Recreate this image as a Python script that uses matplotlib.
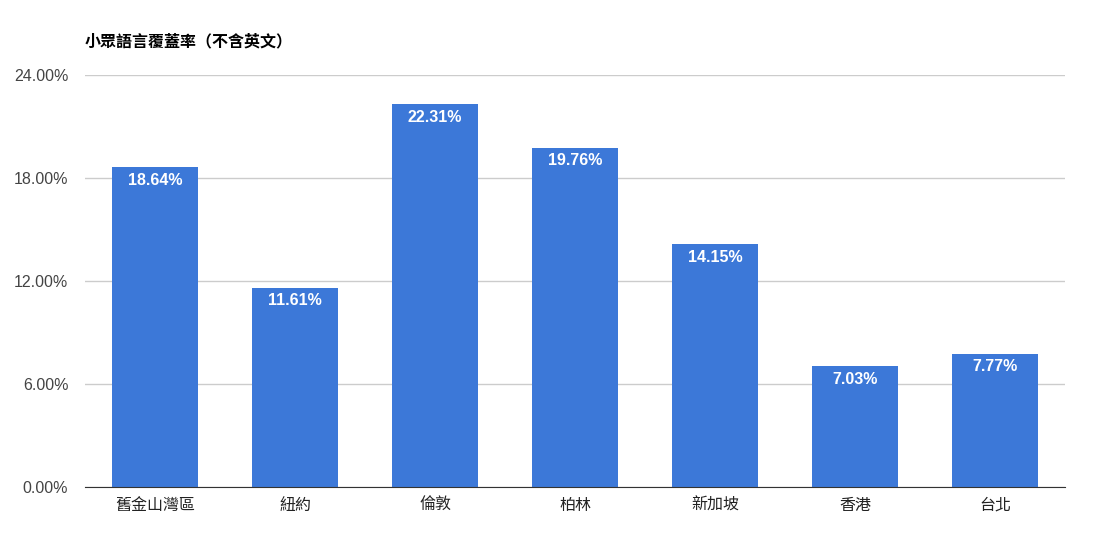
import matplotlib.pyplot as plt
from matplotlib.ticker import FuncFormatter

# data
cities = ['舊金山灣區', '紐約', '倫敦', '柏林', '新加坡', '香港', '台北']
coverage = [18.64, 11.61, 22.31, 19.76, 14.15, 7.03, 7.77]
y_ticks = [0, 6, 12, 18, 24]

plt.rcParams['font.family'] = ['Liberation Sans', 'Noto Sans CJK TC', 'DejaVu Sans']

fig = plt.figure(figsize=(10.93, 5.44), dpi=100)
ax = fig.add_axes([85 / 1093, 57 / 544, 980 / 1093, 412 / 544])

bars = ax.bar(range(len(cities)), coverage, width=0.62, color='#3c78d8', zorder=2)

# value labels inside the top of each bar
for b, v in zip(bars, coverage):
    ax.annotate(f'{v:.2f}%', (b.get_x() + b.get_width() / 2, v),
                xytext=(0, -4), textcoords='offset points',
                ha='center', va='top', color='white', fontsize=11.5, fontweight='bold')

ax.set_xlim(-0.5, len(cities) - 0.5)
ax.set_ylim(0, 24)
ax.set_yticks(y_ticks)
ax.yaxis.set_major_formatter(FuncFormatter(lambda v, p: f'{v:.2f}%'))
ax.set_xticks(range(len(cities)))
ax.set_xticklabels(cities, family='Noto Sans CJK TC')

ax.grid(axis='y', color='#cccccc', linewidth=1, zorder=0)
ax.tick_params(axis='both', length=0, labelsize=11.5, colors='#444444')
ax.tick_params(axis='x', colors='#222222', pad=7)
ax.tick_params(axis='y', pad=12)
for s in ['top', 'right', 'left']:
    ax.spines[s].set_visible(False)
ax.spines['bottom'].set_color('#333333')
ax.spines['bottom'].set_zorder(3)

fig.text(85 / 1093, 1 - 42 / 544, '小眾語言覆蓋率（不含英文）', ha='left', va='center',
         fontsize=11.5, fontweight='bold', color='#000000')

fig.savefig('out.png', dpi=100)
